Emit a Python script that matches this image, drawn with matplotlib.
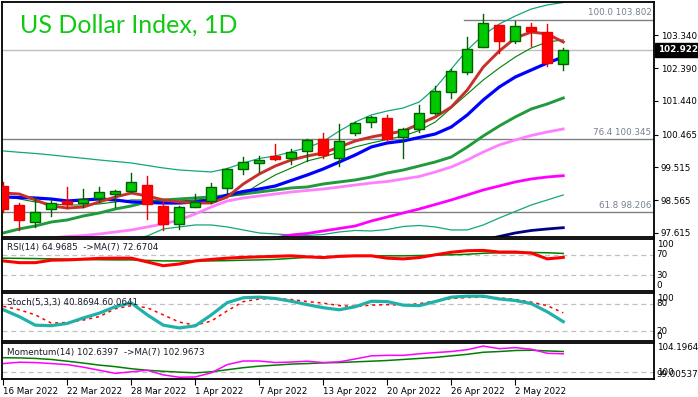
import numpy as np
import matplotlib.pyplot as plt
from matplotlib.patches import Rectangle

# --- data ---
date_labels = ['16 Mar 2022', '22 Mar 2022', '28 Mar 2022', '1 Apr 2022', '7 Apr 2022',
               '13 Apr 2022', '20 Apr 2022', '26 Apr 2022', '2 May 2022']
date_bars = [0, 4, 8, 12, 16, 20, 24, 28, 32]

opens = [98.975, 98.424, 97.931, 98.307, 98.540, 98.481, 98.626, 98.742, 98.829, 99.004,
         98.395, 97.873, 98.374, 98.540, 98.908, 99.459, 99.633, 99.845, 99.778, 99.998,
         100.329, 99.778, 100.503, 100.822, 100.938, 100.387, 100.619, 101.083, 101.692, 102.289,
         103.014, 103.644, 103.188, 103.577, 103.432, 102.504]
highs = [99.091, 98.481, 98.655, 98.569, 98.946, 98.888, 98.946, 98.858, 99.352, 99.265,
         98.511, 98.395, 98.734, 99.061, 99.505, 99.807, 99.845, 100.193, 100.039, 100.329,
         100.503, 100.764, 100.831, 100.996, 101.025, 100.648, 101.324, 101.875, 102.359, 103.304,
         103.962, 103.644, 103.768, 103.710, 103.672, 102.985]
lows = [98.220, 97.699, 97.785, 98.104, 98.336, 98.365, 98.519, 98.357, 98.800, 98.017,
        97.699, 97.727, 98.365, 98.481, 98.780, 99.322, 99.389, 99.729, 99.604, 99.700,
        99.778, 99.554, 100.445, 100.677, 100.309, 99.778, 100.549, 101.062, 101.518, 102.222,
        102.997, 102.823, 103.130, 103.043, 102.463, 102.338]
closes = [98.307, 97.989, 98.221, 98.481, 98.453, 98.597, 98.800, 98.829, 99.091, 98.453,
          97.873, 98.365, 98.519, 98.937, 99.467, 99.662, 99.729, 99.766, 99.952, 100.309,
          99.874, 100.271, 100.802, 100.967, 100.338, 100.619, 101.083, 101.738, 102.318, 102.939,
          103.693, 103.188, 103.614, 103.478, 102.533, 102.922]

ma_red = [98.771, 98.742, 98.569, 98.395, 98.336, 98.365, 98.511, 98.655, 98.771, 98.685,
          98.569, 98.511, 98.481, 98.481, 98.655, 99.033, 99.322, 99.555, 99.729, 99.845,
          99.932, 100.105, 100.280, 100.395, 100.483, 100.569, 100.772, 100.976, 101.265, 101.758,
          102.425, 102.889, 103.266, 103.440, 103.382, 103.150]
ma_blue = [98.655, 98.641, 98.626, 98.597, 98.540, 98.569, 98.597, 98.569, 98.511, 98.496,
           98.481, 98.481, 98.511, 98.569, 98.713, 98.815, 98.887, 98.974, 99.134, 99.294,
           99.468, 99.670, 99.874, 100.106, 100.222, 100.280, 100.381, 100.483, 100.686, 101.034,
           101.469, 101.845, 102.135, 102.338, 102.542, 102.715]
ma_green = [97.612, 97.728, 97.815, 97.930, 97.989, 98.104, 98.191, 98.308, 98.395, 98.511,
            98.569, 98.598, 98.627, 98.656, 98.699, 98.742, 98.801, 98.858, 98.917, 98.945,
            99.033, 99.091, 99.149, 99.235, 99.352, 99.438, 99.555, 99.671, 99.815, 100.106,
            100.425, 100.715, 100.976, 101.207, 101.353, 101.527]
ma_pink = [97.293, 97.351, 97.409, 97.467, 97.510, 97.539, 97.583, 97.641, 97.699, 97.786,
           97.873, 97.989, 98.163, 98.365, 98.540, 98.626, 98.685, 98.742, 98.801, 98.844,
           98.887, 98.945, 99.004, 99.061, 99.105, 99.178, 99.250, 99.381, 99.526, 99.729,
           99.961, 100.164, 100.309, 100.439, 100.541, 100.628]
ma_magenta = [96.770, 96.799, 96.828, 96.857, 96.886, 96.915, 96.944, 96.973, 97.002, 97.060,
              97.118, 97.162, 97.205, 97.263, 97.321, 97.365, 97.409, 97.467, 97.554, 97.597,
              97.670, 97.742, 97.815, 97.959, 98.076, 98.192, 98.308, 98.438, 98.569, 98.714,
              98.859, 98.975, 99.091, 99.178, 99.235, 99.273]
ma_navy = [np.nan] * 26 + [97.002, 97.089, 97.176, 97.293, 97.409, 97.510, 97.612, 97.684,
                           97.728, 97.765]
band_upper = [99.990, 99.952, 99.917, 99.874, 99.824, 99.778, 99.729, 99.685, 99.642, 99.569,
              99.497, 99.439, 99.410, 99.381, 99.482, 99.642, 99.772, 99.845, 99.961, 100.091,
              100.265, 100.569, 100.830, 101.034, 101.150, 101.237, 101.411, 101.816, 102.367, 102.918,
              103.353, 103.672, 103.904, 104.107, 104.224, 104.296]
band_lower = [97.118, 97.060, 97.002, 97.002, 97.060, 97.176, 97.264, 97.351, 97.423, 97.525,
              97.728, 97.786, 97.844, 97.844, 97.786, 97.699, 97.612, 97.583, 97.554, 97.539,
              97.568, 97.641, 97.684, 97.670, 97.713, 97.800, 97.829, 97.786, 97.699, 97.699,
              97.844, 98.046, 98.235, 98.424, 98.569, 98.714]
ma_thin = [98.685, 98.598, 98.511, 98.453, 98.424, 98.424, 98.453, 98.511, 98.569, 98.569,
           98.540, 98.540, 98.569, 98.598, 98.656, 98.742, 99.032, 99.294, 99.496, 99.700,
           99.815, 99.961, 100.106, 100.222, 100.324, 100.425, 100.584, 100.830, 101.236, 101.642,
           102.049, 102.396, 102.715, 102.977, 103.151, 103.209]

fib_levels = [(100.0, 103.802), (76.4, 100.345), (61.8, 98.206)]
price_ticks = [103.340, 102.390, 101.440, 100.465, 99.515, 98.565, 97.615]
last_price = 102.922

rsi = [58.0, 54.6, 54.6, 59.4, 60.0, 61.4, 63.0, 63.4, 63.4, 56.0,
       48.6, 52.0, 58.0, 61.0, 63.4, 65.0, 66.0, 67.0, 68.0, 66.0,
       64.6, 67.0, 68.0, 68.0, 63.4, 62.0, 64.6, 70.0, 75.0, 78.0,
       78.6, 75.4, 75.4, 73.4, 62.0, 64.97]
rsi_ma = [63.4, 63.0, 62.6, 62.0, 61.4, 61.0, 60.4, 60.0, 60.0, 59.0,
          58.0, 58.0, 58.0, 58.0, 58.6, 59.4, 60.0, 61.0, 63.0, 65.0,
          66.0, 66.6, 67.4, 68.0, 68.0, 68.0, 68.6, 69.4, 70.0, 71.0,
          73.0, 74.0, 74.0, 74.6, 74.0, 72.67]
stoch_k = [66.7, 51.8, 33.3, 32.2, 37.1, 48.9, 59.3, 73.3, 81.6, 55.6,
           33.3, 27.3, 31.8, 55.6, 82.2, 92.7, 94.0, 91.1, 85.1, 77.8,
           71.1, 66.7, 73.3, 85.1, 84.4, 76.7, 75.6, 84.4, 94.0, 96.2,
           96.2, 90.0, 86.7, 80.0, 62.2, 40.87]
stoch_d = [74.0, 66.7, 55.6, 37.8, 39.3, 44.4, 51.8, 68.9, 75.6, 71.1,
           55.6, 40.0, 33.3, 42.2, 64.4, 84.4, 90.0, 91.1, 88.9, 84.4,
           81.1, 75.6, 74.0, 76.7, 77.8, 76.7, 80.0, 85.6, 91.1, 93.3,
           94.0, 92.7, 88.9, 83.3, 75.6, 60.06]
momentum = [101.230, 101.422, 101.378, 101.230, 101.081, 100.710, 100.266, 99.821, 100.043, 100.266,
            99.598, 99.257, 99.302, 99.895, 101.081, 101.600, 101.600, 101.378, 101.452, 101.571,
            101.378, 101.482, 101.897, 102.342, 102.416, 102.416, 102.638, 102.816, 102.965, 103.232,
            103.751, 103.380, 103.528, 103.306, 102.713, 102.640]
momentum_ma = [102.075, 102.045, 101.971, 101.823, 101.571, 101.304, 101.007, 100.785, 100.488, 100.266,
               100.117, 99.999, 99.895, 100.043, 100.340, 100.636, 100.859, 101.007, 101.155, 101.230,
               101.333, 101.378, 101.482, 101.571, 101.674, 101.823, 101.971, 102.119, 102.342, 102.564,
               102.861, 102.965, 103.113, 103.157, 103.054, 102.967]

# indicator header texts as shown on the chart
rsi_text = 'RSI(14) 64.9685  ->MA(7) 72.6704'
stoch_text = 'Stoch(5,3,3) 40.8694 60.0641'
mom_text = 'Momentum(14) 102.6397  ->MA(7) 102.9673'
mom_lo, mom_hi = 99.00537, 104.1964

# --- layout ---
W, H = 698, 397
fig = plt.figure(figsize=(W / 100, H / 100), dpi=100)
fig.patch.set_facecolor('white')


def panel(top, bottom):
    return fig.add_axes([2 / W, 1 - bottom / H, 652 / W, (bottom - top) / H])


ax = panel(2, 237)
ax_rsi = panel(239, 291)
ax_sto = panel(293, 341)
ax_mom = panel(343, 379)

x = np.arange(len(closes))
small = dict(fontsize=6.3, family='DejaVu Sans')

for a in (ax, ax_rsi, ax_sto, ax_mom):
    a.set_xlim(-0.08, 40.67)
    for s in a.spines.values():
        s.set_linewidth(1.3)
        s.set_color('black')
    a.set_xticks([])
    a.set_yticks([])

# --- main price panel ---
ax.set_ylim(97.495, 104.31)
ax.plot(x, band_upper, color='#12a77a', lw=0.9, zorder=2)
ax.plot(x, band_lower, color='#12a77a', lw=0.9, zorder=2)
ax.plot(x, ma_navy, color='#000080', lw=2.0, zorder=2)
ax.plot(x, ma_magenta, color='#ff00ff', lw=2.0, zorder=2)
ax.plot(x, ma_pink, color='#ff80ff', lw=2.0, zorder=2)
ax.plot(x, ma_green, color='#1f9a3c', lw=2.1, zorder=2)
ax.plot(x, ma_thin, color='#008000', lw=0.8, zorder=2)
ax.plot(x, ma_blue, color='#0000ff', lw=2.3, zorder=2)
ax.plot(x, ma_red, color='#c8302c', lw=2.1, zorder=2)

# fibonacci levels and last-price line
ax.axhline(last_price, color='#c0c0c0', lw=1, zorder=1)
for i, (pct, lvl) in enumerate(fib_levels):
    if i == 0:
        ax.plot([28.8, 40.67], [lvl, lvl], color='#808080', lw=1, zorder=1)
    else:
        ax.axhline(lvl, color='#808080', lw=1, zorder=1)
    ax.text(0.996, lvl + 0.06, f'{pct:.1f} {lvl:.3f}', transform=ax.get_yaxis_transform(),
            ha='right', va='bottom', color='#76808c', **small)

# candles
bw = 0.64
for i in x:
    o, h, l, c = opens[i], highs[i], lows[i], closes[i]
    if c >= o:
        face, edge = '#00c800', '#006000'
    else:
        face, edge = '#ff0000', '#ee0000'
    ax.plot([i, i], [l, h], color=edge, lw=1, zorder=4)
    ax.add_patch(Rectangle((i - bw / 2, min(o, c)), bw, max(abs(c - o), 0.02),
                           facecolor=face, edgecolor=edge, lw=1, zorder=5))

ax.text(0.0276, 0.872, 'US Dollar Index, 1D', transform=ax.transAxes, color='#12c812',
        fontsize=18, family='Lato', va='baseline', ha='left')

ax.yaxis.tick_right()
ax.set_yticks(price_ticks)
ax.set_yticklabels([f'{v:.3f}' for v in price_ticks], **small)
ax.tick_params(axis='y', length=3, width=0.8, pad=2, direction='out')
ax.text(1.006, last_price, f'{last_price:.3f}', transform=ax.get_yaxis_transform(),
        ha='left', va='center', color='white', fontsize=6.3, family='DejaVu Sans',
        fontweight='bold', clip_on=False, zorder=10,
        bbox=dict(boxstyle='square,pad=0.28', facecolor='black', edgecolor='black'))

# --- RSI ---
ax_rsi.set_ylim(-1, 101)
for lv in (70, 30):
    ax_rsi.axhline(lv, color='#c0c0c0', lw=0.9, ls=(0, (4, 3)))
ax_rsi.plot(x, rsi_ma, color='#008000', lw=1.1)
ax_rsi.plot(x, rsi, color='#ff0000', lw=2.2)
ax_rsi.text(0.008, 0.83, rsi_text, transform=ax_rsi.transAxes, va='center',
            color='#1a1a2a', **small)

# --- Stochastic ---
ax_sto.set_ylim(-1, 103)
for lv in (80, 20):
    ax_sto.axhline(lv, color='#c0c0c0', lw=0.9, ls=(0, (4, 3)))
ax_sto.plot(x, stoch_d, color='#ff0000', lw=1.1, ls=(0, (2, 2.5)))
ax_sto.plot(x, stoch_k, color='#20b2aa', lw=2.3)
ax_sto.text(0.008, 0.80, stoch_text, transform=ax_sto.transAxes, va='center',
            color='#1a1a2a', **small)

# --- Momentum ---
ax_mom.set_ylim(mom_lo, mom_hi)
ax_mom.axhline(100, color='#c0c0c0', lw=0.9, ls=(0, (4, 3)))
ax_mom.plot(x, momentum_ma, color='#008000', lw=1.1)
ax_mom.plot(x, momentum, color='#ff00ff', lw=1.1)
ax_mom.text(0.008, 0.74, mom_text, transform=ax_mom.transAxes, va='center',
            color='#1a1a2a', **small)


# indicator scale labels on the right (MT4 draws some of them on top of each other)
def side_label(a, val, txt, va):
    a.text(1.004, val, txt, transform=a.get_yaxis_transform(), ha='left', va=va,
           clip_on=False, color='black', **small)


side_label(ax_rsi, 100, '100', 'top')
side_label(ax_rsi, 70, '70', 'center')
side_label(ax_rsi, 30, '30', 'center')
side_label(ax_rsi, 0, '0', 'bottom')
side_label(ax_sto, 100, '100', 'top')
side_label(ax_sto, 80, '80', 'center')
side_label(ax_sto, 20, '20', 'center')
side_label(ax_sto, 0, '0', 'bottom')
side_label(ax_mom, mom_hi, f'{mom_hi:.4f}', 'top')
side_label(ax_mom, 100, '100', 'center')
side_label(ax_mom, mom_lo, f'{mom_lo:.5f}', 'bottom')

# date axis
ax_mom.set_xticks(date_bars)
ax_mom.set_xticklabels(date_labels, ha='left', **small)
ax_mom.tick_params(axis='x', length=4, width=0.8, pad=2, direction='out')

fig.savefig('out.png', dpi=100, facecolor='white')
